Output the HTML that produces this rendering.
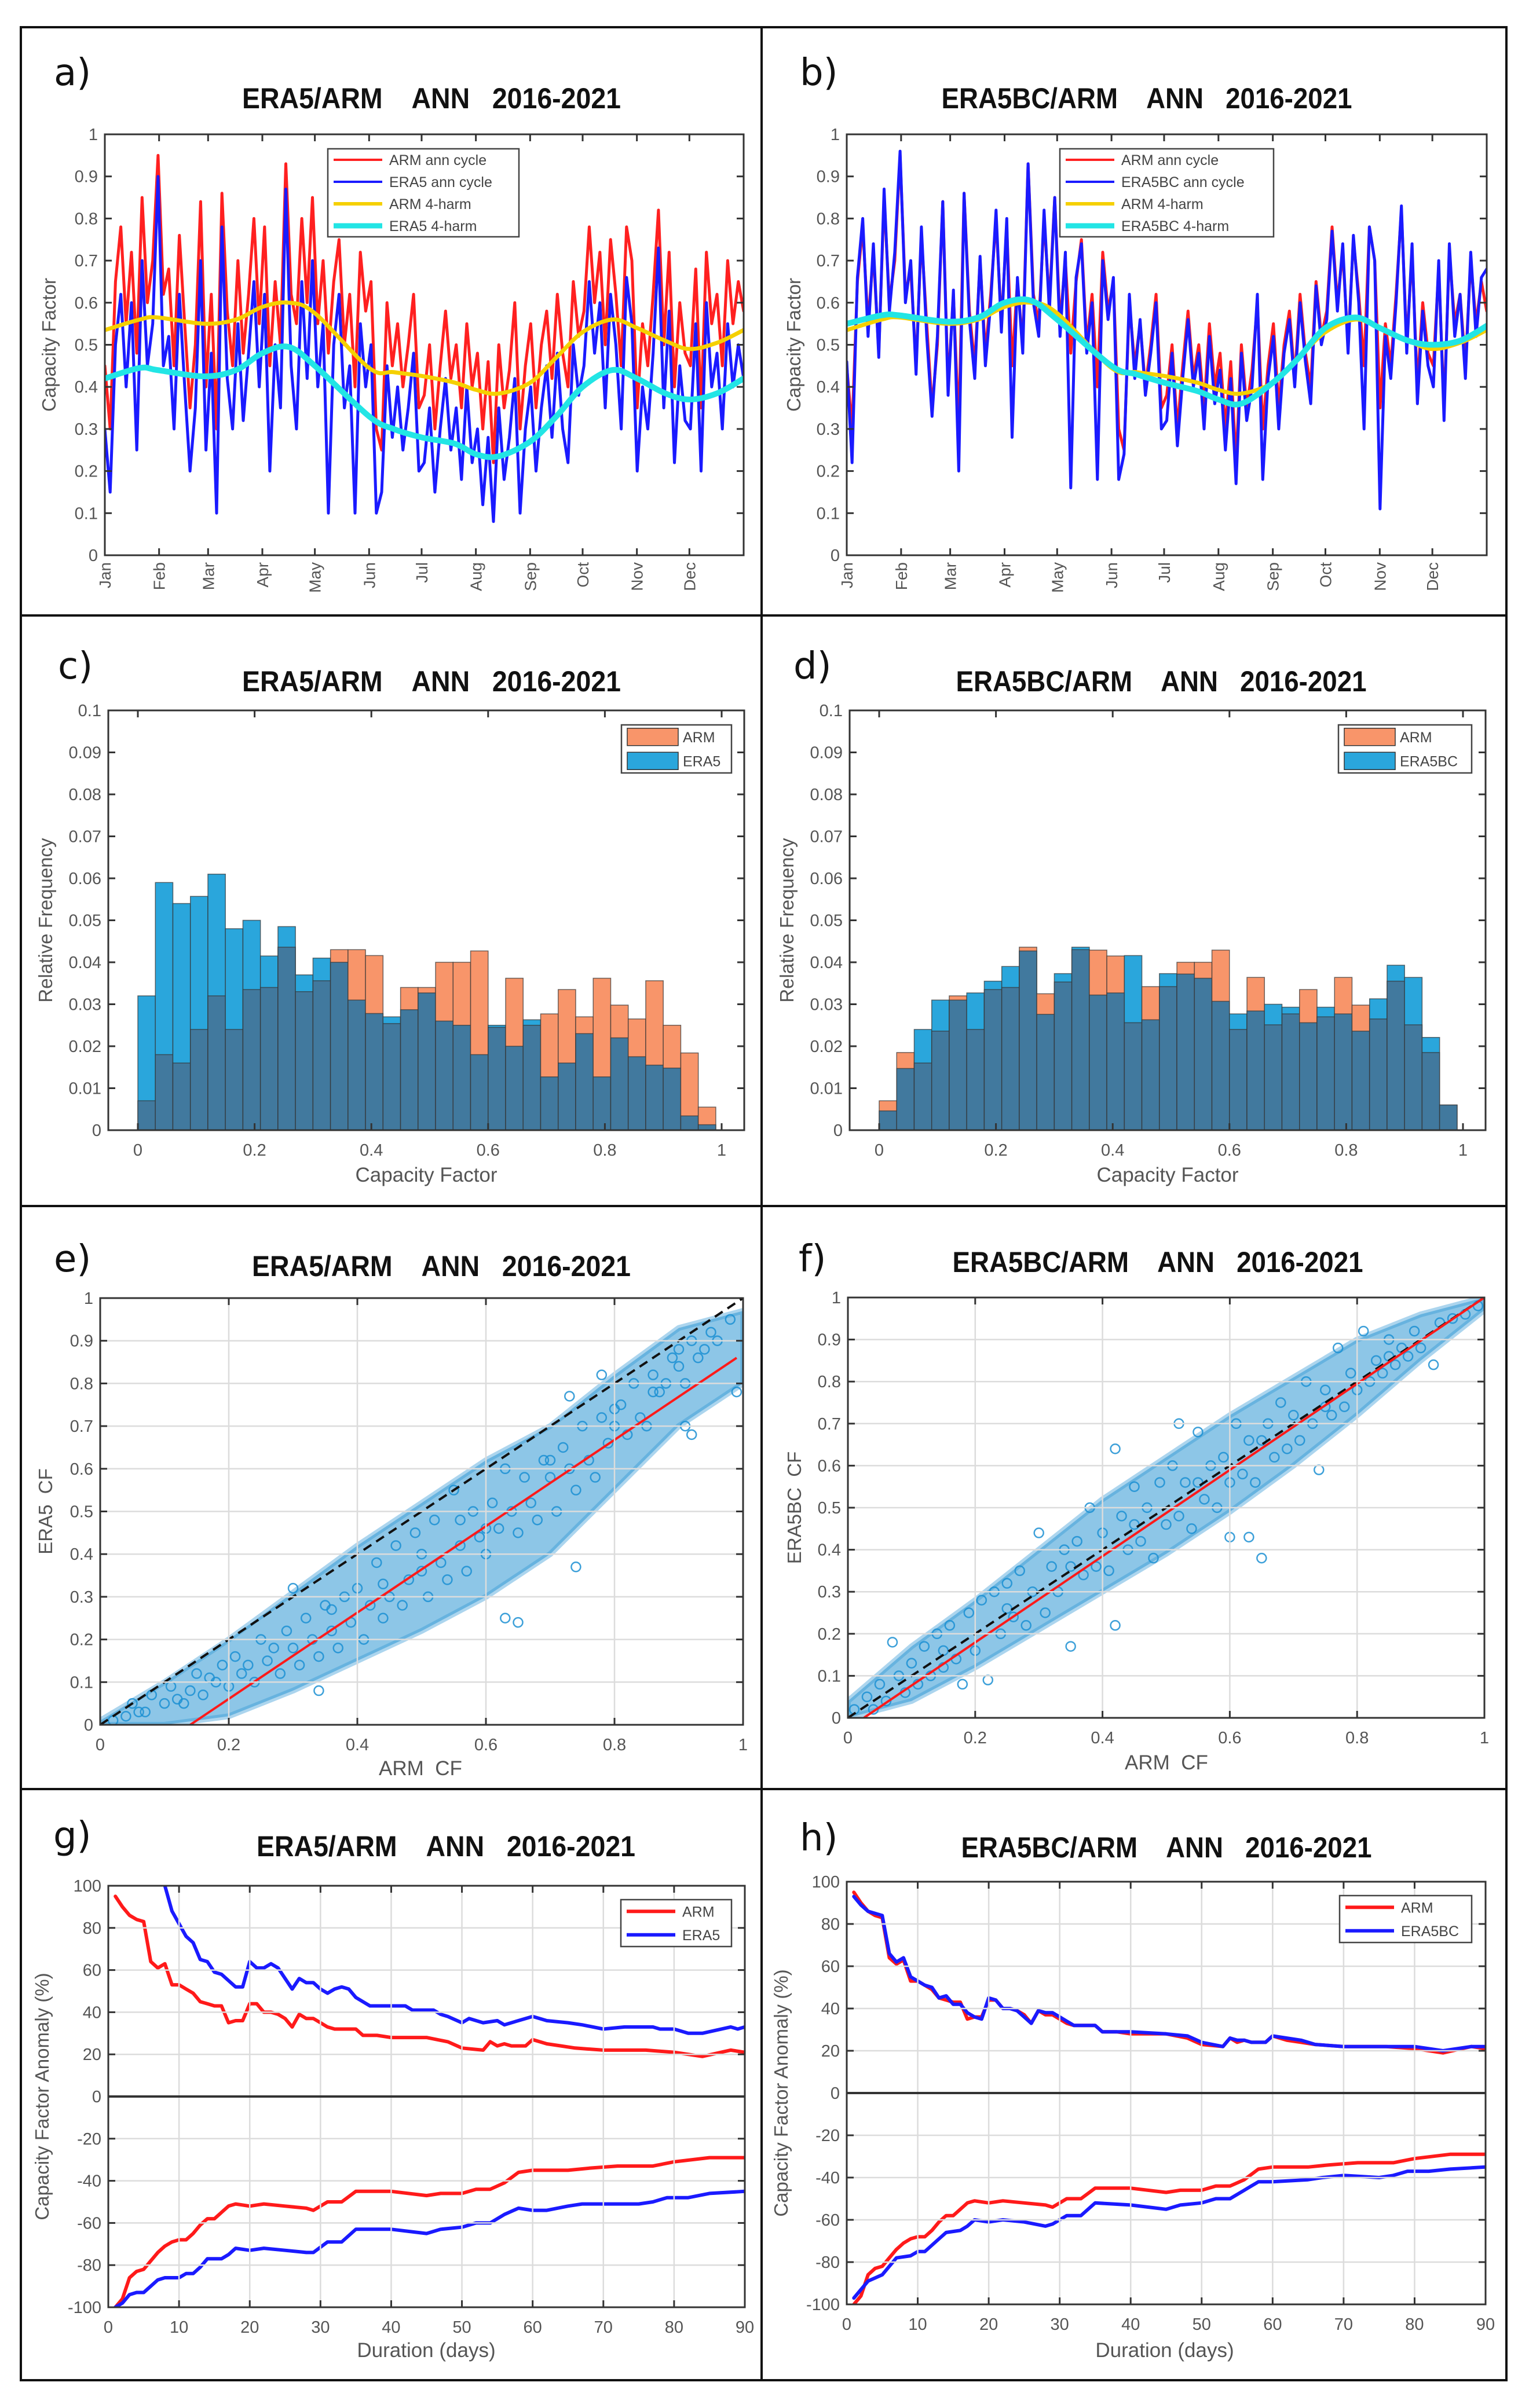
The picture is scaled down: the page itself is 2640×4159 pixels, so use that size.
<!DOCTYPE html>
<html><head><meta charset="utf-8"><title>ERA5 vs ARM capacity factor</title>
<style>
html,body{margin:0;padding:0;background:#fff;}
svg{display:block;font-family:"Liberation Sans",sans-serif;}
text{white-space:pre;}
</style></head>
<body>
<svg id="fig" xmlns="http://www.w3.org/2000/svg" width="2640" height="4159" viewBox="0 0 2640 4159">
<rect x="0" y="0" width="2640" height="4159" fill="#fff"/>
<rect x="36" y="47" width="2565" height="4064" fill="none" stroke="#111" stroke-width="4"/>
<line x1="1315" y1="47" x2="1315" y2="4111" stroke="#111" stroke-width="4"/>
<line x1="36" y1="1063" x2="2601" y2="1063" stroke="#111" stroke-width="4"/>
<line x1="36" y1="2083" x2="2601" y2="2083" stroke="#111" stroke-width="4"/>
<line x1="36" y1="3090" x2="2601" y2="3090" stroke="#111" stroke-width="4"/>
</svg>
<script>
// ---------- DATA ----------
const monthNames = ["Jan","Feb","Mar","Apr","May","Jun","Jul","Aug","Sep","Oct","Nov","Dec"];
const monthDays = [0,31,59,90,120,151,181,212,243,273,304,334];
const armDaily = [.45,.30,.65,.78,.55,.72,.48,.85,.60,.70,
 .95,.62,.68,.45,.76,.55,.35,.50,.84,
 .40,.62,.30,.86,.58,.45,.70,.48,.62,.80,.55,
 .78,.45,.65,.50,.93,.62,.55,.80,.60,.85,
 .55,.70,.48,.65,.75,.50,.62,.40,.72,.58,
 .65,.30,.25,.60,.45,.55,.40,.50,.62,.35,
 .38,.50,.30,.45,.58,.42,.50,.35,.55,.40,
 .48,.30,.46,.22,.50,.35,.44,.60,.30,.45,
 .55,.35,.50,.58,.42,.62,.48,.40,.65,.52,
 .58,.78,.60,.72,.50,.75,.62,.45,.78,.70,
 .35,.55,.45,.62,.82,.50,.72,.40,.60,.48,
 .45,.68,.35,.72,.55,.62,.45,.70,.55,.65,.58];
const era5Daily = [.30,.15,.50,.62,.40,.60,.25,.70,.45,.55,
 .90,.45,.52,.30,.62,.40,.20,.35,.70,
 .25,.48,.10,.78,.42,.30,.55,.32,.48,.65,.40,
 .62,.20,.50,.35,.87,.45,.30,.65,.42,.70,
 .40,.55,.10,.50,.62,.35,.45,.10,.55,.40,
 .50,.10,.15,.45,.28,.40,.25,.35,.48,.20,
 .22,.35,.15,.30,.42,.25,.35,.18,.40,.22,
 .30,.12,.28,.08,.35,.18,.28,.42,.10,.30,
 .40,.20,.35,.45,.28,.48,.30,.22,.50,.38,
 .45,.65,.48,.60,.35,.62,.50,.30,.66,.55,
 .20,.40,.30,.48,.73,.35,.58,.22,.45,.32,
 .30,.55,.20,.60,.40,.48,.30,.55,.40,.50,.42];
const era5bcDaily = [.46,.22,.66,.80,.52,.74,.47,.87,.58,.72,
 .96,.60,.70,.43,.78,.52,.33,.52,.84,
 .38,.63,.20,.86,.56,.42,.71,.45,.60,.82,.53,
 .80,.28,.66,.48,.93,.60,.52,.82,.58,.85,
 .52,.72,.16,.66,.74,.48,.60,.18,.70,.56,
 .66,.18,.24,.62,.42,.56,.38,.48,.60,.30,
 .32,.48,.26,.42,.56,.40,.48,.30,.52,.36,
 .44,.25,.42,.17,.48,.32,.40,.62,.18,.42,
 .52,.30,.48,.56,.40,.60,.46,.36,.64,.50,
 .56,.77,.58,.74,.48,.76,.60,.30,.78,.70,
 .11,.52,.42,.60,.83,.48,.74,.36,.58,.45,
 .40,.70,.32,.74,.52,.62,.42,.72,.52,.66,.68];
const harmDays = [0,20,30,57,75,90,105,120,151,165,181,200,212,225,243,258,273,290,304,320,334,350,365];
const armHarm = [.535,.56,.565,.55,.56,.59,.60,.575,.445,.435,.426,.41,.393,.384,.41,.47,.53,.56,.54,.51,.49,.505,.535];
const era5Harm = [.42,.445,.44,.425,.44,.48,.495,.45,.33,.30,.28,.265,.24,.235,.27,.33,.40,.44,.42,.385,.37,.385,.42];
const era5bcHarm = [.55,.57,.57,.555,.565,.60,.605,.56,.45,.43,.41,.39,.37,.36,.41,.47,.54,.565,.54,.51,.50,.51,.545];

const binWidth = 0.03;
const histArmC = [.007,.018,.016,.024,.032,.024,.0335,.034,.0436,.033,.0356,.043,.043,.0416,.0254,.034,.034,.040,.040,.0427,.0245,.0362,.025,.0277,.0335,.027,.0362,.0298,.0265,.0356,.025,.0184,.0055];
const histEra5C = [.032,.059,.054,.0557,.061,.048,.050,.0415,.0485,.037,.041,.040,.031,.0278,.027,.0287,.0327,.026,.025,.018,.025,.020,.0263,.0127,.016,.023,.0127,.022,.0175,.0155,.0148,.0034,.0013];
const histArmD = [.007,.0185,.016,.0236,.032,.024,.0335,.034,.0436,.0325,.0353,.043,.0429,.0415,.0256,.0342,.0342,.040,.040,.0429,.024,.0364,.0251,.0277,.0335,.027,.0364,.0298,.0265,.0355,.0251,.0185,.006];
const histBcD = [.0046,.0147,.024,.031,.031,.0327,.0355,.039,.0427,.0276,.0373,.0436,.0322,.0327,.0416,.0263,.0373,.0372,.0362,.0307,.0277,.0284,.030,.0293,.0256,.0293,.0277,.0236,.0313,.0393,.0364,.0221,.006];

const scatterE = [[.02,.01],[.04,.02],[.05,.05],[.07,.03],[.08,.07],[.1,.05],[.11,.09],[.12,.06],[.14,.08],[.15,.12],[.16,.07],[.18,.1],[.19,.14],[.2,.09],[.21,.16],[.22,.12],[.24,.1],[.25,.2],[.26,.15],[.28,.12],[.29,.22],[.3,.18],[.31,.14],[.32,.25],[.33,.2],[.34,.16],[.35,.28],[.36,.22],[.37,.18],[.38,.3],[.39,.24],[.4,.32],[.41,.2],[.42,.28],[.43,.38],[.44,.25],[.45,.3],[.46,.42],[.47,.28],[.48,.34],[.49,.45],[.5,.36],[.51,.3],[.52,.48],[.53,.38],[.54,.34],[.55,.55],[.56,.42],[.57,.36],[.58,.5],[.59,.44],[.6,.4],[.61,.52],[.62,.46],[.63,.6],[.64,.5],[.65,.45],[.66,.58],[.67,.52],[.68,.48],[.69,.62],[.7,.58],[.71,.5],[.72,.65],[.73,.6],[.74,.55],[.75,.7],[.76,.62],[.77,.58],[.78,.72],[.79,.66],[.8,.7],[.81,.75],[.82,.68],[.83,.8],[.84,.72],[.85,.7],[.86,.82],[.87,.78],[.88,.8],[.89,.86],[.9,.84],[.91,.8],[.92,.9],[.93,.86],[.94,.88],[.95,.92],[.96,.9],[.98,.95],[.99,.78],[.74,.37],[.65,.24],[.63,.25],[.3,.32],[.34,.08],[.73,.77],[.78,.82],[.92,.68],[.91,.7],[.06,.03],[.13,.05],[.17,.11],[.23,.14],[.27,.18],[.36,.27],[.44,.33],[.5,.4],[.56,.48],[.6,.46],[.7,.62],[.8,.74],[.86,.78],[.9,.88]];
const bandXE = [0,.1,.2,.3,.4,.5,.6,.7,.8,.9,1];
const bandHiE = [.01,.1,.2,.31,.42,.52,.62,.7,.82,.93,.97];
const bandLoE = [0,0,.02,.08,.15,.22,.3,.4,.55,.7,.8];
const fitE = [[.14,0],[.99,.86]];
const scatterF = [[.01,.02],[.03,.05],[.04,.02],[.05,.08],[.06,.04],[.07,.18],[.08,.1],[.09,.06],[.1,.13],[.11,.08],[.12,.17],[.13,.1],[.14,.2],[.15,.12],[.16,.22],[.17,.14],[.18,.08],[.19,.25],[.2,.16],[.21,.28],[.22,.09],[.23,.3],[.24,.2],[.25,.32],[.26,.24],[.27,.35],[.28,.22],[.29,.3],[.3,.44],[.31,.25],[.32,.36],[.33,.3],[.34,.4],[.35,.17],[.36,.42],[.37,.34],[.38,.5],[.39,.36],[.4,.44],[.41,.35],[.42,.22],[.43,.48],[.44,.4],[.45,.55],[.46,.42],[.47,.5],[.48,.38],[.49,.56],[.5,.46],[.51,.6],[.52,.48],[.53,.56],[.54,.45],[.55,.68],[.56,.52],[.57,.6],[.58,.5],[.59,.62],[.6,.56],[.61,.7],[.62,.58],[.63,.66],[.64,.56],[.65,.38],[.66,.7],[.67,.62],[.68,.75],[.69,.64],[.7,.72],[.71,.66],[.72,.8],[.73,.7],[.74,.59],[.75,.78],[.76,.72],[.77,.88],[.78,.74],[.79,.82],[.8,.78],[.81,.92],[.82,.8],[.83,.85],[.84,.82],[.85,.9],[.86,.84],[.87,.88],[.88,.86],[.89,.92],[.9,.88],[.92,.84],[.93,.94],[.95,.95],[.97,.96],[.99,.98],[.6,.43],[.63,.43],[.42,.64],[.52,.7],[.15,.16],[.25,.26],[.35,.36],[.45,.46],[.55,.56],[.65,.66],[.75,.74],[.85,.86]];
const bandXF = [0,.1,.2,.3,.4,.5,.6,.7,.8,.9,1];
const bandHiF = [.04,.17,.28,.4,.52,.62,.72,.81,.9,.96,1];
const bandLoF = [0,.04,.12,.21,.3,.39,.49,.6,.72,.85,.97];
const fitF = [[.025,0],[1,1]];

const armPos = [[1,95],[2,90],[3,86],[4,84],[5,83],[6,64],[7,61],[8,63],[9,53],[10,53],[11,51],[12,49],[13,45],[14,44],[15,43],[16,43],[17,35],[18,36],[19,36],[20,44],[21,44],[22,40],[23,40],[24,39],[25,37],[26,33],[27,39],[28,37],[29,37],[30,35],[31,33],[32,32],[35,32],[36,29],[38,29],[40,28],[45,28],[48,26],[50,23],[53,22],[54,26],[55,24],[56,25],[57,24],[59,24],[60,27],[62,25],[64,24],[66,23],[70,22],[72,22],[76,22],[80,21],[84,19],[88,22],[90,21]];
const era5Pos = [[7,110],[8,100],[9,88],[10,82],[11,76],[12,73],[13,65],[14,64],[15,59],[16,58],[17,55],[18,52],[19,52],[20,64],[21,61],[22,61],[23,63],[24,61],[25,56],[26,51],[27,56],[28,54],[29,54],[30,51],[31,49],[32,51],[33,52],[34,51],[35,47],[37,43],[40,43],[42,43],[43,41],[46,41],[47,39],[48,38],[50,35],[51,37],[53,35],[55,36],[56,34],[60,38],[62,36],[65,35],[67,34],[70,32],[73,33],[77,33],[78,32],[80,32],[82,30],[84,30],[88,33],[89,32],[90,33]];
const armNeg = [[1,-100],[2,-96],[3,-86],[4,-83],[5,-82],[6,-78],[7,-74],[8,-71],[9,-69],[10,-68],[11,-68],[12,-65],[13,-61],[14,-58],[15,-58],[16,-55],[17,-52],[18,-51],[20,-52],[22,-51],[25,-52],[28,-53],[29,-54],[31,-50],[33,-50],[35,-45],[38,-45],[40,-45],[45,-47],[47,-46],[50,-46],[52,-44],[54,-44],[56,-41],[58,-36],[60,-35],[65,-35],[68,-34],[72,-33],[75,-33],[77,-33],[80,-31],[85,-29],[87,-29],[90,-29]];
const era5Neg = [[1,-100],[2,-98],[3,-94],[4,-93],[5,-93],[6,-90],[7,-87],[8,-86],[10,-86],[11,-84],[12,-84],[13,-81],[14,-77],[16,-77],[17,-75],[18,-72],[20,-73],[22,-72],[25,-73],[28,-74],[29,-74],[31,-69],[33,-69],[35,-63],[40,-63],[45,-65],[47,-63],[50,-62],[52,-60],[54,-60],[56,-56],[58,-53],[60,-54],[62,-54],[65,-52],[67,-51],[70,-51],[75,-51],[77,-50],[79,-48],[82,-48],[85,-46],[90,-45]];
const bcPos = [[1,93],[2,89],[3,86],[4,85],[5,84],[6,66],[7,62],[8,64],[9,55],[10,53],[11,51],[12,50],[13,45],[14,46],[15,42],[16,42],[17,38],[18,36],[19,35],[20,45],[21,44],[22,40],[23,40],[24,39],[25,36],[26,33],[27,39],[28,38],[29,38],[30,36],[31,34],[32,32],[35,32],[36,29],[40,29],[45,28],[48,27],[50,24],[53,22],[54,26],[55,25],[56,25],[57,24],[59,24],[60,27],[62,26],[64,25],[66,23],[70,22],[76,22],[80,22],[84,20],[88,22],[90,22]];
const bcNeg = [[1,-97],[3,-89],[5,-86],[6,-82],[7,-78],[9,-77],[10,-75],[11,-75],[13,-69],[14,-66],[16,-65],[17,-63],[18,-60],[20,-61],[22,-60],[25,-61],[28,-63],[29,-62],[31,-58],[33,-58],[35,-52],[40,-53],[45,-55],[47,-53],[50,-52],[52,-50],[54,-50],[56,-46],[58,-42],[60,-42],[65,-41],[67,-40],[70,-39],[75,-40],[77,-39],[79,-37],[82,-37],[85,-36],[90,-35]];

// ---------- RENDER ----------
const NS = 'http://www.w3.org/2000/svg';
const svg = document.getElementById('fig');
function mk(parent, tag, attrs, txt) {
  const el = document.createElementNS(NS, tag);
  for (const k in attrs) el.setAttribute(k, attrs[k]);
  if (txt != null) el.textContent = txt;
  parent.appendChild(el);
  return el;
}
const defs = mk(svg, 'defs', {});
function makeAx(id, c) {
  const ax = Object.assign({}, c);
  ax.sx = v => c.x0 + (v - c.xmin) / (c.xmax - c.xmin) * (c.x1 - c.x0);
  ax.sy = v => c.y1 - (v - c.ymin) / (c.ymax - c.ymin) * (c.y1 - c.y0);
  const cp = mk(defs, 'clipPath', {id: 'clip-' + id});
  mk(cp, 'rect', {x: c.x0, y: c.y0, width: c.x1 - c.x0, height: c.y1 - c.y0});
  ax.g = mk(svg, 'g', {});
  
  
  ax.plot = mk(ax.g, 'g', {'clip-path': 'url(#clip-' + id + ')'});
  
  
  return ax;
}
function header(ax, id, letter, lx, ly, title, tx, ty, tw) {
  const l = mk(ax.g, 'text', {x: lx, y: ly, 'font-size': 64, fill: '#111', 'font-family': '"DejaVu Sans","Liberation Sans",sans-serif'}, letter + ')');
  
  
  const t = mk(ax.g, 'text', {x: tx, y: ty, 'font-size': 50, 'font-weight': 'bold', fill: '#111', 'text-anchor': 'middle', textLength: tw, lengthAdjust: 'spacingAndGlyphs'}, title);
  
  
}
function box(ax, id) {
  const r = mk(ax.g, 'rect', {x: ax.x0, y: ax.y0, width: ax.x1 - ax.x0, height: ax.y1 - ax.y0, fill: 'none', stroke: '#333', 'stroke-width': 3});
  
  
}
function yTicks(ax, id, vals, labels, grid) {
  vals.forEach((v, i) => {
    const y = ax.sy(v);
    if (grid && v > ax.ymin && v < ax.ymax) {
      const gl = mk(ax.g, 'line', {x1: ax.x0, x2: ax.x1, y1: y, y2: y, stroke: '#dcdcdc', 'stroke-width': 2.5});
      
      
    }
    const t1 = mk(ax.g, 'line', {x1: ax.x0, x2: ax.x0 + 12, y1: y, y2: y, stroke: '#333', 'stroke-width': 3});
    
    
    const t2 = mk(ax.g, 'line', {x1: ax.x1, x2: ax.x1 - 12, y1: y, y2: y, stroke: '#333', 'stroke-width': 3});
    
    
    const tl = mk(ax.g, 'text', {x: ax.x0 - 12, y: y + 10, 'font-size': 29, fill: '#555', 'text-anchor': 'end'}, labels[i]);
    
    
  });
}
function xTicks(ax, id, vals, labels, grid) {
  vals.forEach((v, i) => {
    const x = ax.sx(v);
    if (grid && v > ax.xmin && v < ax.xmax) {
      const gl = mk(ax.g, 'line', {x1: x, x2: x, y1: ax.y0, y2: ax.y1, stroke: '#dcdcdc', 'stroke-width': 2.5});
      
      
    }
    const t1 = mk(ax.g, 'line', {x1: x, x2: x, y1: ax.y1, y2: ax.y1 - 12, stroke: '#333', 'stroke-width': 3});
    
    
    const t2 = mk(ax.g, 'line', {x1: x, x2: x, y1: ax.y0, y2: ax.y0 + 12, stroke: '#333', 'stroke-width': 3});
    
    
    const tl = mk(ax.g, 'text', {x: x, y: ax.y1 + 44, 'font-size': 29, fill: '#555', 'text-anchor': 'middle'}, labels[i]);
    
    
  });
}
function monthTicks(ax, id) {
  monthDays.forEach((d, i) => {
    const x = ax.sx(d);
    const t1 = mk(ax.g, 'line', {x1: x, x2: x, y1: ax.y1, y2: ax.y1 - 12, stroke: '#333', 'stroke-width': 3});
    
    
    const t2 = mk(ax.g, 'line', {x1: x, x2: x, y1: ax.y0, y2: ax.y0 + 12, stroke: '#333', 'stroke-width': 3});
    
    
    const tl = mk(ax.g, 'text', {x: 0, y: 0, 'font-size': 28, fill: '#555', 'text-anchor': 'end', transform: 'translate(' + (x + 10) + ',' + (ax.y1 + 12) + ') rotate(-90)'}, monthNames[i]);
    
    
  });
}
function yLabel(ax, id, txt, x) {
  const cy = (ax.y0 + ax.y1) / 2;
  const t = mk(ax.g, 'text', {x: 0, y: 0, 'font-size': 33, fill: '#555', 'text-anchor': 'middle', transform: 'translate(' + x + ',' + cy + ') rotate(-90)'}, txt);
  
  
}
function xLabel(ax, id, txt, x, y) {
  const t = mk(ax.g, 'text', {x: x, y: y, 'font-size': 35, fill: '#555', 'text-anchor': 'middle'}, txt);
  
  
}
function pathFromPairs(ax, pairs) {
  return pairs.map((p, i) => (i ? 'L' : 'M') + ax.sx(p[0]).toFixed(1) + ',' + ax.sy(p[1]).toFixed(1)).join('');
}
function smoothPath(ax, xs, ys) {
  const P = xs.map((x, i) => [ax.sx(x), ax.sy(ys[i])]);
  let d = 'M' + P[0][0] + ',' + P[0][1];
  for (let i = 0; i < P.length - 1; i++) {
    const p0 = P[Math.max(0, i - 1)], p1 = P[i], p2 = P[i + 1], p3 = P[Math.min(P.length - 1, i + 2)];
    const c1 = [p1[0] + (p2[0] - p0[0]) / 6, p1[1] + (p2[1] - p0[1]) / 6];
    const c2 = [p2[0] - (p3[0] - p1[0]) / 6, p2[1] - (p3[1] - p1[1]) / 6];
    d += 'C' + c1.join(',') + ' ' + c2.join(',') + ' ' + p2.join(',');
  }
  return d;
}
function dailyPairs(vals) {
  return vals.map((v, i) => [i * 365 / (vals.length - 1), v]);
}
function legendLines(ax, id, x, y, w, h, entries) {
  const lg = mk(ax.g, 'g', {});
  
  
  mk(lg, 'rect', {x: x, y: y, width: w, height: h, fill: '#fff', stroke: '#444', 'stroke-width': 2.5});
  const step = h / entries.length;
  entries.forEach((e, i) => {
    const cy = y + step * (i + 0.5);
    const it = mk(lg, 'g', {});
    
    
    if (e.patch) {
      mk(it, 'rect', {x: x + 10, y: cy - 15, width: 88, height: 30, fill: e.color, stroke: '#333', 'stroke-width': 1.5});
    } else {
      mk(it, 'line', {x1: x + 10, x2: x + 94, y1: cy, y2: cy, stroke: e.color, 'stroke-width': e.w});
    }
    mk(it, 'text', {x: x + 106, y: cy + 9, 'font-size': 25, fill: '#444'}, e.label);
  });
}

const cfLabels = ['0','0.1','0.2','0.3','0.4','0.5','0.6','0.7','0.8','0.9','1'];
const cfVals = [0,.1,.2,.3,.4,.5,.6,.7,.8,.9,1];

function tsPanel(id, letter, c, model, modelHarm, modelName, hdr) {
  const ax = makeAx(id, c);
  header(ax, id, letter, hdr.lx, hdr.ly, hdr.title, hdr.tx, hdr.ty, hdr.tw);
  const lines = [
    {d: pathFromPairs(ax, dailyPairs(armDaily)), color: '#ff2020', w: 5, name: 'arm-ann-cycle-line'},
    {d: pathFromPairs(ax, dailyPairs(model)), color: '#1a1aff', w: 5, name: 'model-ann-cycle-line'},
    {d: smoothPath(ax, harmDays, armHarm), color: '#f5d000', w: 7, name: 'arm-4harm-line'},
    {d: smoothPath(ax, harmDays, modelHarm), color: '#22e5e5', w: 10, name: 'model-4harm-line'}
  ];
  lines.forEach(L => {
    const p = mk(ax.plot, 'path', {d: L.d, fill: 'none', stroke: L.color, 'stroke-width': L.w, 'stroke-linejoin': 'round', 'stroke-linecap': 'round'});
    
    
  });
  box(ax, id);
  yTicks(ax, id, cfVals, cfLabels, false);
  monthTicks(ax, id);
  yLabel(ax, id, 'Capacity Factor', hdr.ylx);
  legendLines(ax, id, hdr.legx, 257, hdr.legw, 152, [
    {label: 'ARM ann cycle', color: '#ff2020', w: 4},
    {label: modelName + ' ann cycle', color: '#1a1aff', w: 4},
    {label: 'ARM 4-harm', color: '#f5d000', w: 6},
    {label: modelName + ' 4-harm', color: '#22e5e5', w: 9}
  ]);
}
tsPanel('a', 'a', {x0:181,x1:1284,y0:232,y1:959,xmin:0,xmax:365,ymin:0,ymax:1}, era5Daily, era5Harm, 'ERA5',
  {lx:93, ly:147, title:'ERA5/ARM    ANN   2016-2021', tx:745, ty:187, tw:654, ylx:96, legx:566, legw:330});
tsPanel('b', 'b', {x0:1462,x1:2567,y0:232,y1:959,xmin:0,xmax:365,ymin:0,ymax:1}, era5bcDaily, era5bcHarm, 'ERA5BC',
  {lx:1381, ly:147, title:'ERA5BC/ARM    ANN   2016-2021', tx:1980, ty:187, tw:709, ylx:1382, legx:1830, legw:369});

function histPanel(id, letter, c, arm, model, modelName, hdr) {
  const ax = makeAx(id, c);
  header(ax, id, letter, hdr.lx, hdr.ly, hdr.title, hdr.tx, hdr.ty, hdr.tw);
  arm.forEach((a, i) => {
    const m = model[i];
    const xl = ax.sx(i * binWidth), xr = ax.sx((i + 1) * binWidth);
    const lo = Math.min(a, m);
    const hiColor = a > m ? '#f8956a' : '#2aa6dc';
    const hi = Math.max(a, m);
    const b1 = mk(ax.plot, 'rect', {x: xl, y: ax.sy(hi), width: xr - xl, height: ax.sy(0) - ax.sy(hi), fill: hiColor, stroke: '#333', 'stroke-width': 1.5, 'stroke-opacity': 0.7});
    
    
    const b2 = mk(ax.plot, 'rect', {x: xl, y: ax.sy(lo), width: xr - xl, height: ax.sy(0) - ax.sy(lo), fill: '#41799e', stroke: '#333', 'stroke-width': 1.5, 'stroke-opacity': 0.7});
    
    
  });
  box(ax, id);
  yTicks(ax, id, [0,.01,.02,.03,.04,.05,.06,.07,.08,.09,.1], ['0','0.01','0.02','0.03','0.04','0.05','0.06','0.07','0.08','0.09','0.1'], false);
  xTicks(ax, id, [0,.2,.4,.6,.8,1], ['0','0.2','0.4','0.6','0.8','1'], false);
  yLabel(ax, id, 'Relative Frequency', hdr.ylx);
  xLabel(ax, id, 'Capacity Factor', hdr.xlx, 2041);
  legendLines(ax, id, hdr.legx, 1252, hdr.legw, 83, [
    {label: 'ARM', color: '#f8956a', patch: true},
    {label: modelName, color: '#2aa6dc', patch: true}
  ]);
}
histPanel('c', 'c', {x0:187,x1:1285,y0:1227,y1:1952,xmin:-0.0506,xmax:1.0387,ymin:0,ymax:0.1}, histArmC, histEra5C, 'ERA5',
  {lx:100, ly:1172, title:'ERA5/ARM    ANN   2016-2021', tx:745, ty:1194, tw:654, ylx:90, xlx:736, legx:1073, legw:190});
histPanel('d', 'd', {x0:1467,x1:2565,y0:1227,y1:1952,xmin:-0.0506,xmax:1.0387,ymin:0,ymax:0.1}, histArmD, histBcD, 'ERA5BC',
  {lx:1370, ly:1172, title:'ERA5BC/ARM    ANN   2016-2021', tx:2005, ty:1194, tw:709, ylx:1370, xlx:2016, legx:2311, legw:230});

function scatterPanel(id, letter, c, pts, bx, bhi, blo, fit, yname, hdr) {
  const ax = makeAx(id, c);
  header(ax, id, letter, hdr.lx, hdr.ly, hdr.title, hdr.tx, hdr.ty, hdr.tw);
  yTicks(ax, id, cfVals, cfLabels, true);
  xTicks(ax, id, [0,.2,.4,.6,.8,1], ['0','0.2','0.4','0.6','0.8','1'], true);
  const poly = bx.map((x, i) => ax.sx(x) + ',' + ax.sy(bhi[i])).concat(bx.slice().reverse().map((x, i) => ax.sx(x) + ',' + ax.sy(blo[blo.length - 1 - i]))).join(' ');
  const band = mk(ax.plot, 'polygon', {points: poly, fill: '#2f97d4', 'fill-opacity': 0.55, stroke: '#2f97d4', 'stroke-opacity': 0.4, 'stroke-width': 10, 'stroke-linejoin': 'round'});
  
  
  pts.forEach(p => {
    const cc = mk(ax.plot, 'circle', {cx: ax.sx(p[0]), cy: ax.sy(p[1]), r: 8, fill: 'none', stroke: '#1b8fd2', 'stroke-width': 2.5, 'stroke-opacity': 0.85});
    
    
  });
  const one = mk(ax.plot, 'line', {x1: ax.sx(0), y1: ax.sy(0), x2: ax.sx(1), y2: ax.sy(1), stroke: '#111', 'stroke-width': 4, 'stroke-dasharray': '16,10'});
  
  
  const fl = mk(ax.plot, 'line', {x1: ax.sx(fit[0][0]), y1: ax.sy(fit[0][1]), x2: ax.sx(fit[1][0]), y2: ax.sy(fit[1][1]), stroke: '#ff1a1a', 'stroke-width': 4});
  
  
  box(ax, id);
  yLabel(ax, id, yname, hdr.ylx);
  xLabel(ax, id, 'ARM  CF', hdr.xlx, hdr.xly);
}
scatterPanel('e', 'e', {x0:173,x1:1283,y0:2242,y1:2979,xmin:0,xmax:1,ymin:0,ymax:1}, scatterE, bandXE, bandHiE, bandLoE, fitE, 'ERA5  CF',
  {lx:93, ly:2196, title:'ERA5/ARM    ANN   2016-2021', tx:762, ty:2204, tw:654, ylx:90, xlx:726, xly:3066});
scatterPanel('f', 'f', {x0:1464,x1:2563,y0:2241,y1:2967,xmin:0,xmax:1,ymin:0,ymax:1}, scatterF, bandXF, bandHiF, bandLoF, fitF, 'ERA5BC  CF',
  {lx:1379, ly:2196, title:'ERA5BC/ARM    ANN   2016-2021', tx:1999, ty:2197, tw:709, ylx:1383, xlx:2014, xly:3056});

function durPanel(id, letter, c, mPos, mNeg, modelName, hdr) {
  const ax = makeAx(id, c);
  header(ax, id, letter, hdr.lx, hdr.ly, hdr.title, hdr.tx, hdr.ty, hdr.tw);
  yTicks(ax, id, [-100,-80,-60,-40,-20,0,20,40,60,80,100], ['-100','-80','-60','-40','-20','0','20','40','60','80','100'], true);
  xTicks(ax, id, [0,10,20,30,40,50,60,70,80,90], ['0','10','20','30','40','50','60','70','80','90'], true);
  const z = mk(ax.g, 'line', {x1: ax.x0, x2: ax.x1, y1: ax.sy(0), y2: ax.sy(0), stroke: '#333', 'stroke-width': 4});
  
  
  [[armPos, '#ff1a1a', 'arm-positive-line'], [armNeg, '#ff1a1a', 'arm-negative-line'], [mPos, '#1a1aff', 'model-positive-line'], [mNeg, '#1a1aff', 'model-negative-line']].forEach(s => {
    const p = mk(ax.plot, 'path', {d: pathFromPairs(ax, s[0]), fill: 'none', stroke: s[1], 'stroke-width': 6, 'stroke-linejoin': 'round', 'stroke-linecap': 'round'});
    
    
  });
  box(ax, id);
  yLabel(ax, id, 'Capacity Factor Anomaly (%)', hdr.ylx);
  xLabel(ax, id, 'Duration (days)', hdr.xlx, 4071);
  legendLines(ax, id, hdr.legx, hdr.legy, hdr.legw, 81, [
    {label: 'ARM', color: '#ff1a1a', w: 6},
    {label: modelName, color: '#1a1aff', w: 6}
  ]);
}
durPanel('g', 'g', {x0:187,x1:1286,y0:3257,y1:3985,xmin:0,xmax:90,ymin:-100,ymax:100}, era5Pos, era5Neg, 'ERA5',
  {lx:92, ly:3192, title:'ERA5/ARM    ANN   2016-2021', tx:770, ty:3206, tw:654, ylx:84, xlx:736, legx:1072, legy:3281, legw:191});
durPanel('h', 'h', {x0:1462,x1:2565,y0:3250,y1:3980,xmin:0,xmax:90,ymin:-100,ymax:100}, bcPos, bcNeg, 'ERA5BC',
  {lx:1381, ly:3196, title:'ERA5BC/ARM    ANN   2016-2021', tx:2014, ty:3208, tw:709, ylx:1360, xlx:2011, legx:2313, legy:3274, legw:228});
</script>
</body></html>
